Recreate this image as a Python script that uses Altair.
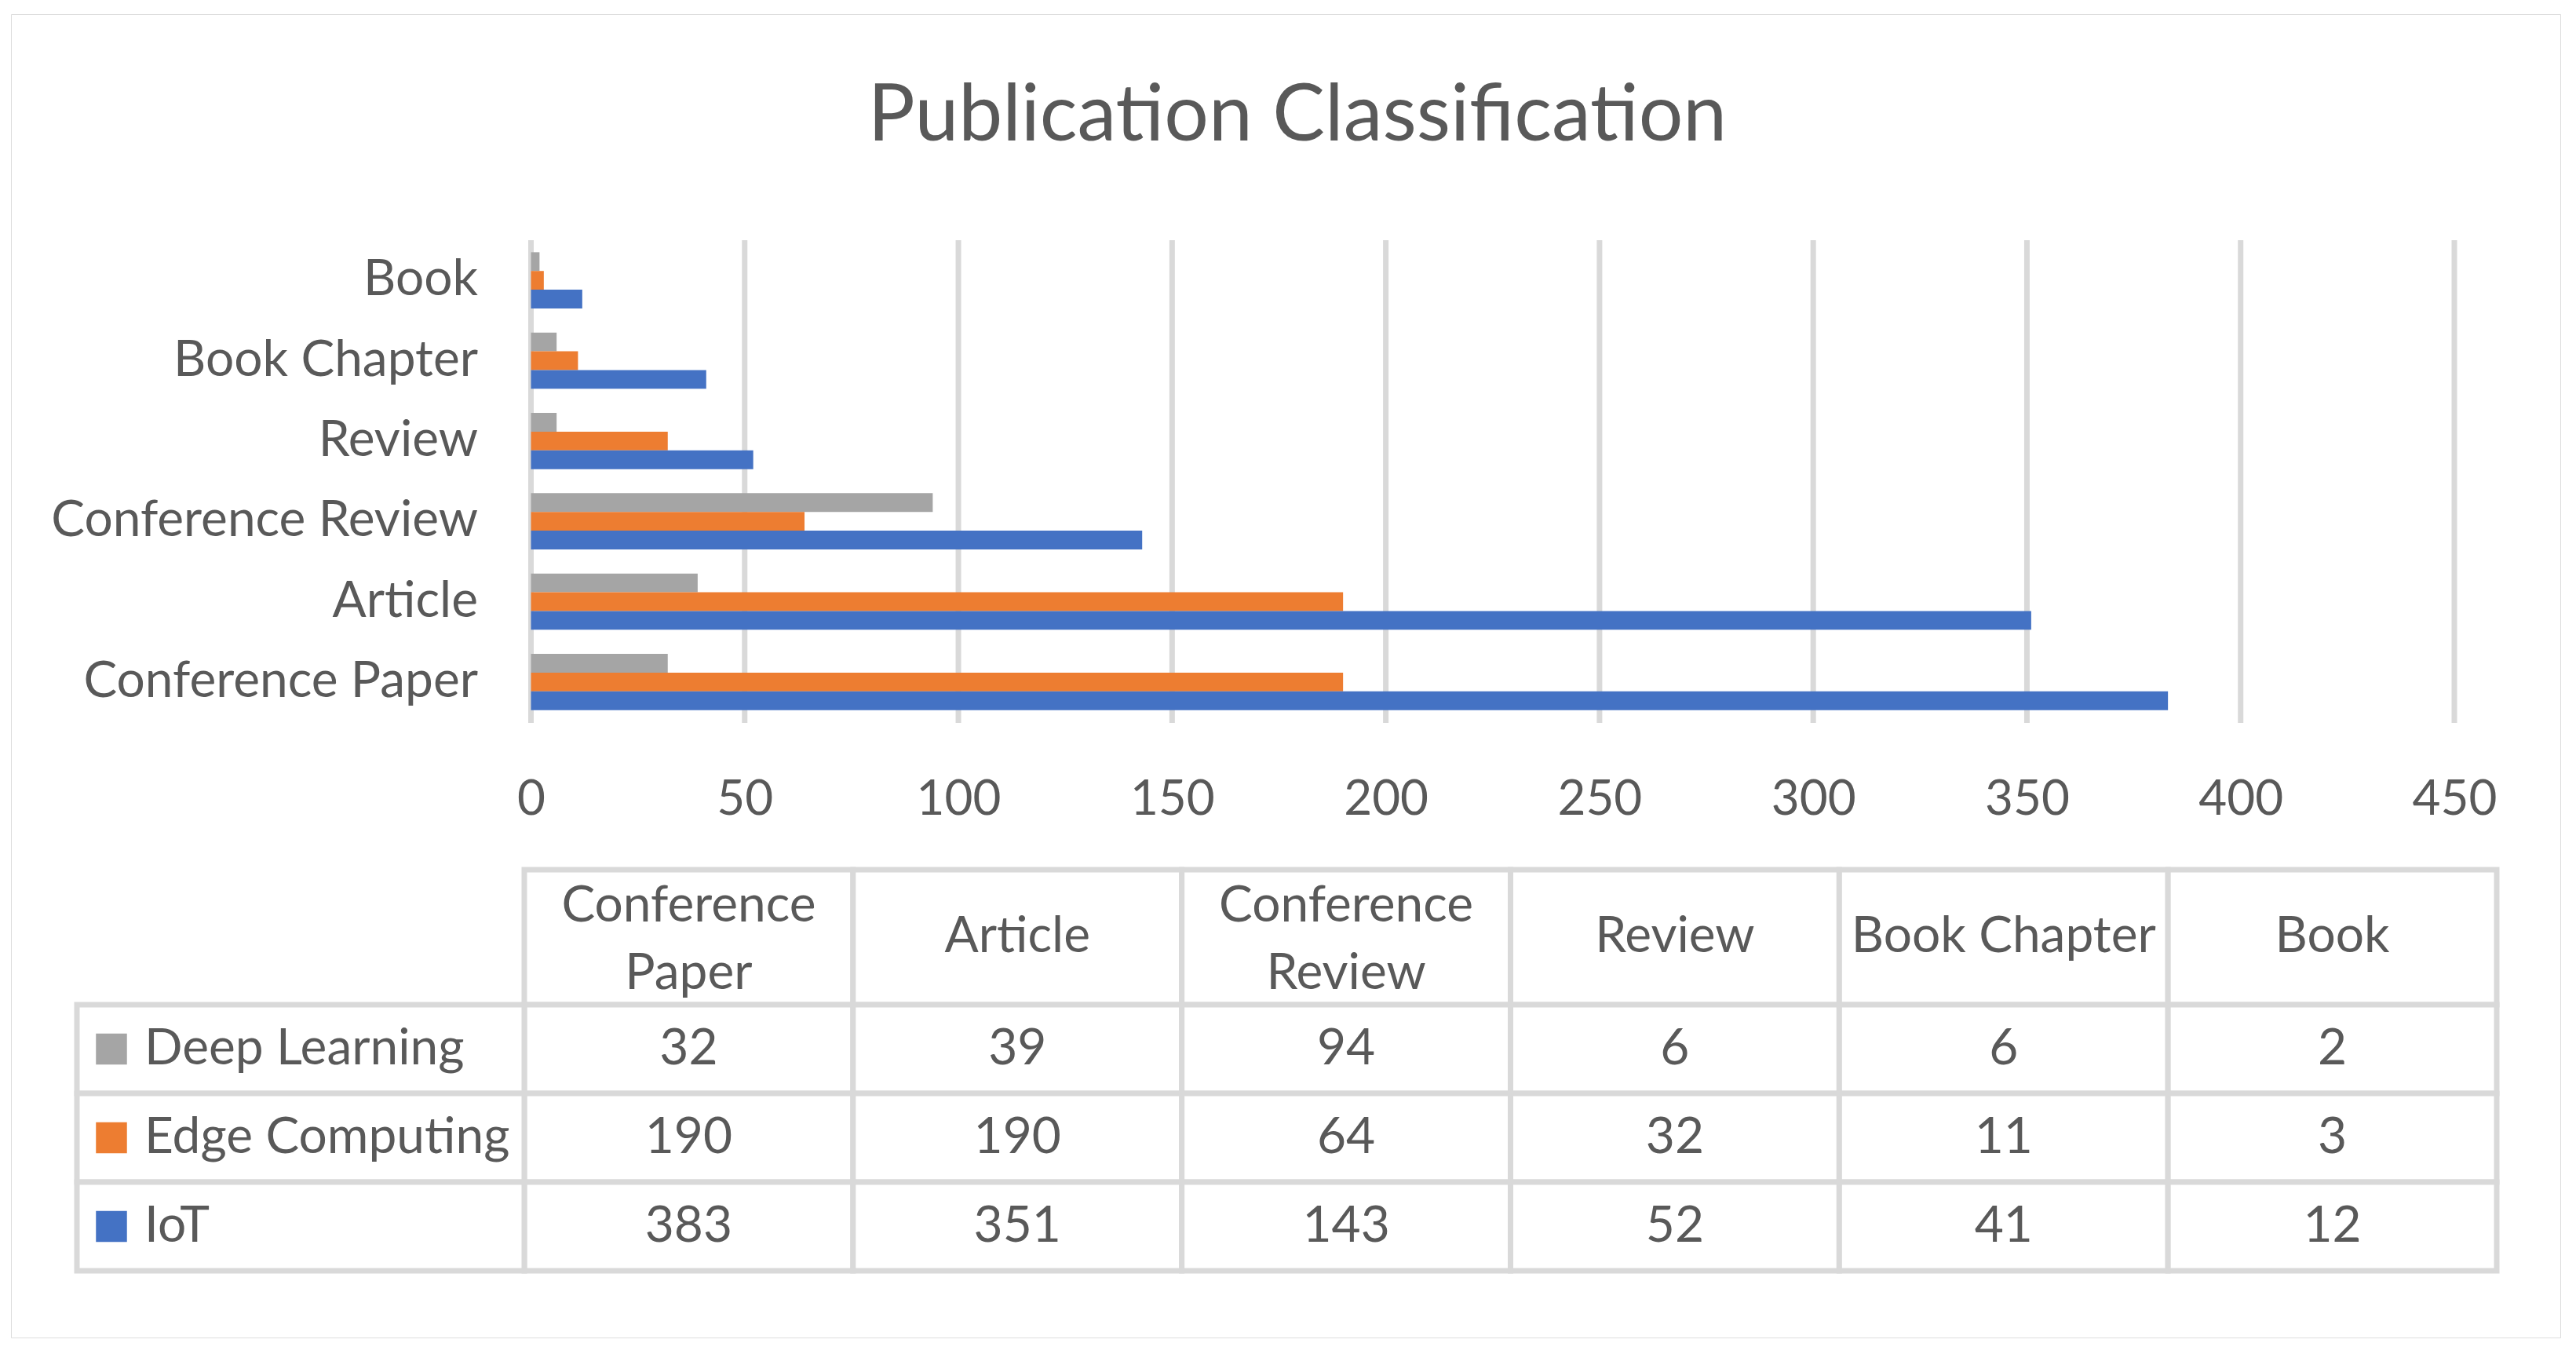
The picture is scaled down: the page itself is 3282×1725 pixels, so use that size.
import altair as alt
import pandas as pd

# ---- data ----
categories = ["Conference Paper", "Article", "Conference Review", "Review", "Book Chapter", "Book"]
series = ["Deep Learning", "Edge Computing", "IoT"]
deep_learning = [32, 39, 94, 6, 6, 2]
edge_computing = [190, 190, 64, 32, 11, 3]
iot = [383, 351, 143, 52, 41, 12]
x_ticks = [0, 50, 100, 150, 200, 250, 300, 350, 400, 450]
colors = ["#A5A5A5", "#ED7D31", "#4472C4"]

values = {"Deep Learning": deep_learning, "Edge Computing": edge_computing, "IoT": iot}
long = pd.DataFrame(
    [{"category": c, "series": s, "value": values[s][i]} for s in series for i, c in enumerate(categories)]
)
cat_df = pd.DataFrame({"category": categories, "row": ["Header"] * len(categories)})
ser_df = pd.DataFrame({"series": series, "col": ["Series"] * len(series)})
tick_df = pd.DataFrame({"tick": x_ticks})

# ---- layout (pixels, relative to the framed view) ----
W, H = 3248, 1686
PLOT_X = [662.5, 3113]
PLOT_Y = [288, 902]
LABEL_COL = [84, 654]
DATA_COLS = [654, 3167]
HEAD_ROW = [1090, 1262]
BODY_ROWS = [1262, 1601]

FONT = "Lato"
TXT = "#595959"
LINE = "#D9D9D9"
FS = 64
LW = 7

cat_top_to_bottom = list(reversed(categories))
x_val_scale = alt.Scale(domain=[0, 450], range=PLOT_X, nice=False)

grid = alt.Chart(tick_df).mark_rule(color=LINE, strokeWidth=LW).encode(
    x=alt.X("tick:Q", scale=x_val_scale, axis=None),
    y=alt.value(PLOT_Y[0]),
    y2=alt.value(PLOT_Y[1] + 1),
)

bars = alt.Chart(long).mark_bar().encode(
    x=alt.X(
        "value:Q",
        scale=x_val_scale,
        axis=alt.Axis(
            values=x_ticks, grid=False, domain=False, ticks=False, labelFlush=False,
            labelFont=FONT, labelFontSize=62, labelColor=TXT, labelPadding=68,
            offset=PLOT_Y[1] - H, title=None,
        ),
    ),
    y=alt.Y(
        "category:N",
        sort=cat_top_to_bottom,
        scale=alt.Scale(domain=cat_top_to_bottom, range=PLOT_Y, paddingInner=0.3, paddingOuter=0.15),
        axis=alt.Axis(
            domain=False, ticks=False, labelFont=FONT, labelFontSize=FS, labelColor=TXT,
            labelPadding=68, labelLimit=2000, offset=-PLOT_X[0], title=None,
        ),
    ),
    yOffset=alt.YOffset("series:N", sort=series, scale=alt.Scale(domain=series)),
    color=alt.Color("series:N", scale=alt.Scale(domain=series, range=colors), legend=None),
)


def band(domain, rng):
    return alt.Scale(domain=domain, range=rng, paddingInner=0, paddingOuter=0)


x_cols = alt.X("category:N", scale=band(categories, DATA_COLS), axis=None)
y_head = alt.Y("row:N", scale=band(["Header"], HEAD_ROW), axis=None)
y_body = alt.Y("series:N", scale=band(series, BODY_ROWS), axis=None)
x_label = alt.X("col:N", scale=band(["Series"], LABEL_COL), axis=None)

head_rect = alt.Chart(cat_df).mark_rect(fill="white", stroke=LINE, strokeWidth=LW).encode(x=x_cols, y=y_head)
body_rect = alt.Chart(long).mark_rect(fill="white", stroke=LINE, strokeWidth=LW).encode(x=x_cols, y=y_body)
label_rect = alt.Chart(ser_df).mark_rect(fill="white", stroke=LINE, strokeWidth=LW).encode(x=x_label, y=y_body)

wrap_test = "indexof(datum.category, 'Conference') == 0"
head_text_wrapped = alt.Chart(cat_df).transform_filter(wrap_test).transform_calculate(
    lbl="replace(datum.category, ' ', '\\n')"
).mark_text(font=FONT, fontSize=FS, color=TXT, lineBreak="\n", lineHeight=86, baseline="middle", dy=-39).encode(
    x=x_cols, y=y_head, text="lbl:N"
)
head_text_single = alt.Chart(cat_df).transform_filter("!(" + wrap_test + ")").mark_text(
    font=FONT, fontSize=FS, color=TXT, baseline="middle"
).encode(x=x_cols, y=y_head, text="category:N")

body_text = alt.Chart(long).mark_text(font=FONT, fontSize=FS, color=TXT, baseline="middle").encode(
    x=x_cols, y=y_body, text="value:Q"
)

swatch = alt.Chart(ser_df).mark_square(size=1560, opacity=1, xOffset=-241).encode(
    x=x_label,
    y=y_body,
    color=alt.Color("series:N", scale=alt.Scale(domain=series, range=colors), legend=None),
)
label_text = alt.Chart(ser_df).mark_text(font=FONT, fontSize=FS, color=TXT, align="left", baseline="middle", dx=-199).encode(
    x=x_label, y=y_body, text="series:N"
)

chart = alt.layer(
    grid, bars, head_rect, body_rect, label_rect,
    head_text_wrapped, head_text_single, body_text, swatch, label_text,
).resolve_scale(x="independent", y="independent").properties(
    width=W,
    height=H,
    autosize=alt.AutoSizeParams(type="none"),
    padding={"left": 6, "top": 10, "right": 6, "bottom": 6},
    title=alt.TitleParams(
        "Publication Classification", font=FONT, fontSize=100, fontWeight="normal", color=TXT,
        anchor="middle", frame="group", offset=-261, baseline="alphabetic", dx=15,
    ),
).configure_view(stroke=LINE, strokeWidth=6).configure(background="white")

chart.save("out.html", embed_options={"renderer": "svg", "actions": False})
